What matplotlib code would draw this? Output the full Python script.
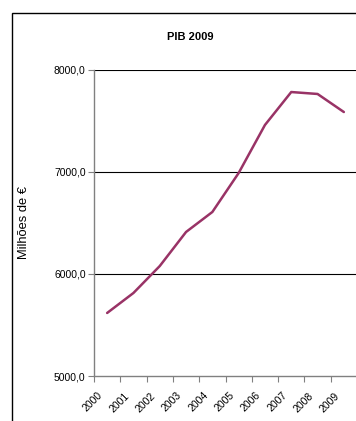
import matplotlib.pyplot as plt
from matplotlib.patches import Rectangle
from matplotlib.transforms import ScaledTranslation

# GDP series (millions of euros)
years = ['2000', '2001', '2002', '2003', '2004', '2005', '2006', '2007', '2008', '2009']
pib = [5618, 5814, 6078, 6412, 6608, 6990, 7461, 7784, 7765, 7588]
yticks = [5000, 6000, 7000, 8000]

plt.rcParams['font.family'] = ['Liberation Sans', 'DejaVu Sans']

W, H = 356, 421
fig = plt.figure(figsize=(W / 100, H / 100), dpi=100)

# chart frame (runs off the right and bottom edges)
fig.patches.append(Rectangle((12 / W, -0.1), 1.2, 1 - 13 / H + 0.1,
                             transform=fig.transFigure, fill=False,
                             edgecolor='black', linewidth=1.0))

ax = fig.add_axes([94 / W, 1 - 376 / H, 263 / W, (376 - 70) / H])
x = [i + 0.5 for i in range(len(years))]
ax.plot(x, pib, color='#993366', linewidth=1.8, solid_capstyle='round', zorder=3)

ax.set_xlim(0, 10)
ax.set_ylim(5000, 8000)
ax.set_yticks(yticks)
ax.set_yticklabels([f'{v},0' for v in yticks], fontsize=7.5)
ax.set_xticks(range(11))
ax.set_xticklabels([])
ax.set_xticks(x, minor=True)
ax.set_xticklabels(years, minor=True, rotation=45, ha='right', va='center',
                   rotation_mode='anchor', fontsize=7.5)
ax.tick_params(axis='x', which='minor', length=0, pad=0)
ax.tick_params(axis='x', which='major', length=4, color='#808080', direction='out')
ax.tick_params(axis='y', length=4, color='#808080', direction='out', pad=2)

# shift year labels down-left of each category centre
shift = ScaledTranslation(-6 / 100, -18 / 100, fig.dpi_scale_trans)
for lbl in ax.get_xticklabels(minor=True):
    lbl.set_transform(lbl.get_transform() + shift)

for v in yticks[1:]:
    ax.axhline(v, color='black', linewidth=0.8, zorder=1)

for s in ['right', 'top']:
    ax.spines[s].set_visible(False)
for s in ['left', 'bottom']:
    ax.spines[s].set_color('#808080')
    ax.spines[s].set_linewidth(1.0)

ax.set_ylabel('Milhões de €', fontsize=9.3)
ax.yaxis.set_label_coords(-64 / 263, 0.5)

fig.text(190 / W, 1 - 37 / H, 'PIB 2009', ha='center', va='center',
         fontsize=8, fontweight='bold')

fig.savefig('out.png', dpi=100)
